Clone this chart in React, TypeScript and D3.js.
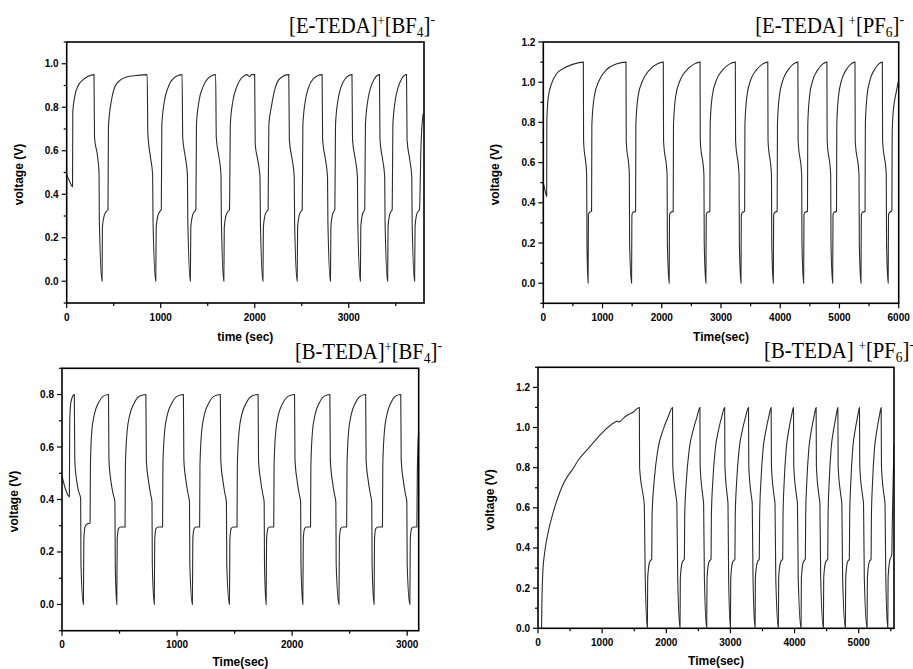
import React from "react";
import * as d3 from "d3";

type Pt = [number, number];

// [E-TEDA]+[BF4]- : time (s), voltage (V)
const eTedaBf4: Pt[] = [
  [0, 0.49], [30, 0.46], [62, 0.435], [65, 0.78], [88, 0.855], [123, 0.9], [176, 0.927], [229, 0.942], [290, 0.95],
  [296, 0.66], [328, 0.575], [344, 0.5], [347, 0.28], [376, 0.0],
  [380, 0.25], [398, 0.3], [420, 0.32], [439, 0.33], [444, 0.71], [476, 0.832], [511, 0.893], [566, 0.924], [637, 0.939], [743, 0.946], [856, 0.95],
  [863, 0.68], [890, 0.572], [914, 0.49], [918, 0.28], [947, 0.0],
  [952, 0.25], [972, 0.305], [990, 0.32], [1006, 0.33], [1012, 0.72], [1040, 0.83], [1078, 0.89], [1130, 0.93], [1227, 0.95],
  [1234, 0.66], [1262, 0.57], [1284, 0.49], [1288, 0.28], [1315, 0.0],
  [1320, 0.25], [1340, 0.305], [1358, 0.32], [1374, 0.33], [1380, 0.72], [1408, 0.83], [1446, 0.89], [1498, 0.93], [1584, 0.95],
  [1591, 0.66], [1620, 0.57], [1641, 0.49], [1645, 0.28], [1671, 0.0],
  [1676, 0.25], [1696, 0.305], [1714, 0.32], [1732, 0.33], [1740, 0.72], [1768, 0.83], [1805, 0.89], [1850, 0.93], [1893, 0.946], [1920, 0.95], [1946, 0.94], [1964, 0.95], [1999, 0.95],
  [2005, 0.63], [2035, 0.55], [2056, 0.48], [2060, 0.27], [2087, 0.0],
  [2092, 0.25], [2110, 0.305], [2126, 0.32], [2142, 0.33], [2150, 0.72], [2176, 0.8], [2211, 0.878], [2265, 0.931], [2362, 0.95],
  [2368, 0.65], [2398, 0.56], [2420, 0.48], [2424, 0.27], [2451, 0.0],
  [2456, 0.25], [2474, 0.305], [2490, 0.32], [2505, 0.33], [2512, 0.72], [2538, 0.83], [2572, 0.89], [2622, 0.93], [2716, 0.95],
  [2722, 0.65], [2752, 0.56], [2774, 0.48], [2778, 0.27], [2805, 0.0],
  [2810, 0.25], [2826, 0.305], [2840, 0.32], [2852, 0.33], [2859, 0.72], [2884, 0.83], [2916, 0.89], [2960, 0.93], [3034, 0.95],
  [3040, 0.65], [3070, 0.56], [3092, 0.48], [3096, 0.27], [3123, 0.0],
  [3128, 0.25], [3144, 0.305], [3158, 0.32], [3170, 0.33], [3177, 0.72], [3202, 0.83], [3232, 0.89], [3272, 0.93], [3326, 0.95],
  [3332, 0.65], [3360, 0.56], [3382, 0.48], [3386, 0.27], [3413, 0.0],
  [3418, 0.25], [3434, 0.305], [3448, 0.32], [3462, 0.33], [3469, 0.72], [3494, 0.83], [3524, 0.89], [3562, 0.93], [3614, 0.95],
  [3620, 0.65], [3648, 0.56], [3670, 0.48], [3674, 0.27], [3700, 0.0],
  [3705, 0.25], [3721, 0.305], [3735, 0.32], [3752, 0.33], [3768, 0.62], [3790, 0.77],
];

// [E-TEDA]+[PF6]-
const eTedaPf6: Pt[] = [
  [0, 0.5], [30, 0.46], [57, 0.432], [60, 0.81], [85, 0.928], [141, 0.994], [226, 1.043], [338, 1.068], [507, 1.09], [676, 1.1],
  [680, 0.71], [732, 0.54], [737, 0.2], [756, 0.0],
  [762, 0.34], [780, 0.352], [815, 0.358], [820, 0.79], [860, 0.928], [945, 1.01], [1060, 1.06], [1230, 1.09], [1396, 1.1],
  [1400, 0.71], [1452, 0.548], [1457, 0.2], [1490, 0.0],
  [1496, 0.34], [1515, 0.352], [1558, 0.358], [1563, 0.79], [1600, 0.93], [1680, 1.01], [1790, 1.06], [1920, 1.09], [2026, 1.1],
  [2030, 0.71], [2090, 0.54], [2095, 0.2], [2125, 0.0],
  [2131, 0.34], [2150, 0.352], [2193, 0.358], [2198, 0.79], [2235, 0.93], [2310, 1.01], [2420, 1.06], [2545, 1.09], [2646, 1.1],
  [2650, 0.71], [2712, 0.54], [2717, 0.2], [2745, 0.0],
  [2751, 0.34], [2770, 0.352], [2812, 0.358], [2817, 0.79], [2852, 0.93], [2922, 1.01], [3025, 1.06], [3140, 1.09], [3242, 1.1],
  [3246, 0.71], [3305, 0.54], [3310, 0.2], [3337, 0.0],
  [3343, 0.34], [3362, 0.352], [3399, 0.358], [3404, 0.79], [3437, 0.93], [3500, 1.01], [3595, 1.06], [3700, 1.09], [3790, 1.1],
  [3794, 0.71], [3852, 0.54], [3857, 0.2], [3883, 0.0],
  [3889, 0.34], [3906, 0.352], [3948, 0.358], [3953, 0.79], [3985, 0.93], [4045, 1.01], [4130, 1.06], [4220, 1.09], [4298, 1.1],
  [4302, 0.71], [4362, 0.54], [4367, 0.2], [4395, 0.0],
  [4401, 0.34], [4418, 0.352], [4460, 0.358], [4465, 0.79], [4495, 0.93], [4550, 1.01], [4630, 1.06], [4715, 1.09], [4788, 1.1],
  [4792, 0.71], [4852, 0.54], [4857, 0.2], [4885, 0.0],
  [4891, 0.34], [4908, 0.352], [4950, 0.358], [4955, 0.79], [4984, 0.93], [5036, 1.01], [5110, 1.06], [5192, 1.09], [5262, 1.1],
  [5266, 0.71], [5330, 0.54], [5335, 0.2], [5363, 0.0],
  [5369, 0.34], [5386, 0.352], [5432, 0.358], [5437, 0.79], [5465, 0.93], [5515, 1.01], [5585, 1.06], [5660, 1.09], [5724, 1.1],
  [5728, 0.71], [5790, 0.54], [5795, 0.2], [5822, 0.0],
  [5828, 0.34], [5845, 0.352], [5885, 0.36], [5890, 0.75], [5910, 0.86], [5954, 0.944], [6000, 1.01],
];

// [B-TEDA]+[BF4]-
const bTedaBf4: Pt[] = [
  [0, 0.49], [30, 0.44], [64, 0.411], [67, 0.68], [72, 0.75], [85, 0.785], [107, 0.8],
  [111, 0.55], [128, 0.47], [145, 0.43], [162, 0.405], [165, 0.15], [186, 0.0],
  [190, 0.25], [201, 0.297], [215, 0.306], [244, 0.31], [247, 0.53], [259, 0.66], [281, 0.724], [316, 0.768], [360, 0.794], [404, 0.8],
  [408, 0.55], [425, 0.47], [445, 0.42], [460, 0.39], [463, 0.15], [476, 0.0],
  [480, 0.25], [492, 0.29], [510, 0.295], [548, 0.295], [551, 0.53], [566, 0.66], [590, 0.724], [628, 0.768], [675, 0.794], [729, 0.8],
  [733, 0.55], [752, 0.47], [770, 0.42], [782, 0.39], [785, 0.15], [802, 0.0],
  [806, 0.25], [818, 0.29], [836, 0.295], [874, 0.295], [877, 0.53], [892, 0.66], [916, 0.724], [955, 0.768], [1002, 0.794], [1055, 0.8],
  [1059, 0.55], [1078, 0.47], [1096, 0.42], [1108, 0.39], [1111, 0.15], [1133, 0.0],
  [1137, 0.25], [1149, 0.29], [1165, 0.295], [1196, 0.295], [1199, 0.53], [1214, 0.66], [1238, 0.724], [1276, 0.768], [1323, 0.794], [1376, 0.8],
  [1380, 0.55], [1399, 0.47], [1417, 0.42], [1429, 0.39], [1432, 0.15], [1455, 0.0],
  [1459, 0.25], [1471, 0.29], [1488, 0.295], [1521, 0.295], [1524, 0.53], [1539, 0.66], [1563, 0.724], [1602, 0.768], [1650, 0.794], [1704, 0.8],
  [1708, 0.55], [1727, 0.47], [1745, 0.42], [1757, 0.39], [1760, 0.15], [1774, 0.0],
  [1778, 0.25], [1790, 0.29], [1806, 0.295], [1840, 0.295], [1843, 0.53], [1858, 0.66], [1882, 0.724], [1920, 0.768], [1968, 0.794], [2021, 0.8],
  [2025, 0.55], [2044, 0.47], [2062, 0.42], [2074, 0.39], [2077, 0.15], [2093, 0.0],
  [2097, 0.25], [2109, 0.29], [2125, 0.295], [2160, 0.295], [2163, 0.53], [2177, 0.66], [2200, 0.724], [2236, 0.768], [2280, 0.794], [2328, 0.8],
  [2332, 0.55], [2350, 0.47], [2368, 0.42], [2380, 0.39], [2383, 0.15], [2407, 0.0],
  [2411, 0.25], [2423, 0.29], [2440, 0.295], [2474, 0.295], [2477, 0.53], [2491, 0.66], [2514, 0.724], [2550, 0.768], [2594, 0.794], [2639, 0.8],
  [2643, 0.55], [2662, 0.47], [2680, 0.42], [2692, 0.39], [2695, 0.15], [2712, 0.0],
  [2716, 0.25], [2728, 0.29], [2745, 0.295], [2785, 0.295], [2788, 0.53], [2802, 0.66], [2824, 0.724], [2858, 0.768], [2900, 0.794], [2944, 0.8],
  [2948, 0.55], [2967, 0.47], [2985, 0.42], [2997, 0.39], [3000, 0.15], [3023, 0.0],
  [3027, 0.25], [3039, 0.29], [3055, 0.295], [3084, 0.295], [3088, 0.5], [3098, 0.65],
];

// [B-TEDA]+[PF6]-
const bTedaPf6: Pt[] = [
  [55, 0.0], [62, 0.15], [75, 0.28], [105, 0.38], [160, 0.48], [239, 0.58], [343, 0.68], [473, 0.763], [500, 0.774], [545, 0.795],
  [629, 0.838], [785, 0.896], [993, 0.971], [1201, 1.027], [1235, 1.032], [1262, 1.028], [1357, 1.054], [1475, 1.075], [1580, 1.1],
  [1584, 0.8], [1640, 0.66], [1656, 0.62], [1672, 0.25], [1705, 0.0],
  [1710, 0.25], [1740, 0.33], [1773, 0.345], [1778, 0.56], [1810, 0.73], [1872, 0.896], [1950, 0.988], [2030, 1.054], [2097, 1.1],
  [2101, 0.81], [2150, 0.66], [2165, 0.62], [2178, 0.25], [2214, 0.0],
  [2219, 0.25], [2250, 0.33], [2282, 0.345], [2287, 0.56], [2312, 0.73], [2360, 0.896], [2420, 0.988], [2480, 1.054], [2524, 1.1],
  [2528, 0.81], [2568, 0.66], [2582, 0.62], [2594, 0.25], [2630, 0.0],
  [2635, 0.25], [2665, 0.33], [2698, 0.345], [2703, 0.56], [2725, 0.73], [2765, 0.896], [2815, 0.988], [2865, 1.054], [2910, 1.1],
  [2914, 0.81], [2950, 0.66], [2962, 0.62], [2972, 0.25], [3000, 0.0],
  [3005, 0.25], [3035, 0.33], [3070, 0.345], [3075, 0.56], [3097, 0.73], [3137, 0.896], [3187, 0.988], [3237, 1.054], [3282, 1.1],
  [3286, 0.81], [3325, 0.66], [3340, 0.62], [3352, 0.25], [3384, 0.0],
  [3389, 0.25], [3420, 0.33], [3450, 0.345], [3455, 0.56], [3475, 0.73], [3510, 0.896], [3555, 0.988], [3598, 1.054], [3635, 1.1],
  [3639, 0.81], [3680, 0.66], [3695, 0.62], [3707, 0.25], [3747, 0.0],
  [3752, 0.25], [3782, 0.33], [3815, 0.345], [3820, 0.56], [3838, 0.73], [3870, 0.896], [3910, 0.988], [3950, 1.054], [3983, 1.1],
  [3987, 0.81], [4030, 0.66], [4045, 0.62], [4057, 0.25], [4101, 0.0],
  [4106, 0.25], [4136, 0.33], [4168, 0.345], [4173, 0.56], [4191, 0.73], [4223, 0.896], [4263, 0.988], [4303, 1.054], [4336, 1.1],
  [4340, 0.81], [4380, 0.66], [4395, 0.62], [4407, 0.25], [4449, 0.0],
  [4454, 0.25], [4484, 0.33], [4517, 0.345], [4522, 0.56], [4540, 0.73], [4570, 0.896], [4608, 0.988], [4645, 1.054], [4675, 1.1],
  [4679, 0.81], [4722, 0.66], [4737, 0.62], [4749, 0.25], [4792, 0.0],
  [4797, 0.25], [4825, 0.33], [4854, 0.345], [4859, 0.56], [4877, 0.73], [4907, 0.896], [4945, 0.988], [4982, 1.054], [5012, 1.1],
  [5016, 0.81], [5060, 0.66], [5075, 0.62], [5087, 0.25], [5130, 0.0],
  [5135, 0.25], [5163, 0.33], [5193, 0.345], [5198, 0.56], [5216, 0.73], [5246, 0.896], [5284, 0.988], [5320, 1.054], [5350, 1.1],
  [5354, 0.81], [5395, 0.66], [5410, 0.62], [5422, 0.25], [5453, 0.0],
  [5458, 0.25], [5485, 0.34], [5515, 0.365], [5525, 0.55], [5540, 0.78], [5550, 0.91],
];

const xTicksE1 = [0, 1000, 2000, 3000];
const xTicksE2 = [0, 1000, 2000, 3000, 4000, 5000, 6000];
const xTicksB1 = [0, 1000, 2000, 3000];
const xTicksB2 = [0, 1000, 2000, 3000, 4000, 5000];
const yTicksE1 = [0, 0.2, 0.4, 0.6, 0.8, 1.0];
const yTicksE2 = [0, 0.2, 0.4, 0.6, 0.8, 1.0, 1.2];
const yTicksB1 = [0, 0.2, 0.4, 0.6, 0.8];
const yTicksB2 = [0, 0.2, 0.4, 0.6, 0.8, 1.0, 1.2];

type Panel = {
  id: string;
  data: Pt[];
  xDomain: [number, number];
  yDomain: [number, number];
  xTicks: number[];
  yTicks: number[];
  box: { l: number; r: number; t: number; b: number };
  xLabel: string;
  xLabelGap: number;
  cation: string;
  anion: string;
  sub: string;
  titleRight: number;
};

const panels: Panel[] = [
  {
    id: "p1", data: eTedaBf4, xDomain: [0, 3800], yDomain: [-0.1, 1.1],
    xTicks: xTicksE1, yTicks: yTicksE1, box: { l: 66.7, r: 424, t: 42, b: 303 },
    xLabel: "time (sec)", xLabelGap: 38, cation: "[E-TEDA]", anion: "[BF", sub: "4", titleRight: 435,
  },
  {
    id: "p2", data: eTedaPf6, xDomain: [0, 6000], yDomain: [-0.1, 1.2],
    xTicks: xTicksE2, yTicks: yTicksE2, box: { l: 543.3, r: 898.7, t: 42, b: 303.3 },
    xLabel: "Time(sec)", xLabelGap: 38, cation: "[E-TEDA] ", anion: "[PF", sub: "6", titleRight: 904,
  },
  {
    id: "p3", data: bTedaBf4, xDomain: [0, 3100], yDomain: [-0.1, 0.9],
    xTicks: xTicksB1, yTicks: yTicksB1, box: { l: 62, r: 418.7, t: 368.3, b: 630.7 },
    xLabel: "Time(sec)", xLabelGap: 35, cation: "[B-TEDA]", anion: "[BF", sub: "4", titleRight: 442,
  },
  {
    id: "p4", data: bTedaPf6, xDomain: [0, 5550], yDomain: [0, 1.3],
    xTicks: xTicksB2, yTicks: yTicksB2, box: { l: 538, r: 894, t: 367.3, b: 628.3 },
    xLabel: "Time(sec)", xLabelGap: 37, cation: "[B-TEDA] ", anion: "[PF", sub: "6", titleRight: 914,
  },
];

const sans = "'Liberation Sans', Arial, Helvetica, sans-serif";
const serif = "'Liberation Serif', 'Times New Roman', serif";

const ChartPanel = ({ p }: { p: Panel }) => {
  const { l, r, t, b } = p.box;
  const x = d3.scaleLinear().domain(p.xDomain).range([l, r]);
  const y = d3.scaleLinear().domain(p.yDomain).range([b, t]);
  const line = d3
    .line<Pt>()
    .x((d) => x(d[0]))
    .y((d) => y(d[1]))
    .curve(d3.curveMonotoneX);

  // minor ticks halfway between labelled ones
  const xMinor = d3.range(p.xDomain[0] + 500, p.xDomain[1] + 1, 1000);
  const yMinor = d3
    .range(Math.round(p.yDomain[0] * 10), Math.round(p.yDomain[1] * 10) + 1)
    .map((k) => k / 10)
    .filter((v) => !p.yTicks.some((tv) => Math.abs(tv - v) < 1e-6));

  const fmtY = d3.format(".1f");

  return (
    <g>
      <defs>
        <clipPath id={`clip-${p.id}`}>
          <rect x={l} y={t} width={r - l} height={b - t} />
        </clipPath>
      </defs>

      <path
        d={line(p.data) || ""}
        fill="none"
        stroke="#2b2b2b"
        strokeWidth={1.1}
        clipPath={`url(#clip-${p.id})`}
      />

      <rect x={l} y={t} width={r - l} height={b - t} fill="none" stroke="#000" strokeWidth={1.6} />

      {/* bottom axis */}
      {p.xTicks.map((v) => (
        <g key={`xt${v}`}>
          <line x1={x(v)} x2={x(v)} y1={b} y2={b + 5} stroke="#000" strokeWidth={1.2} />
          <text x={x(v)} y={b + 17.5} textAnchor="middle" fontFamily={sans} fontWeight="bold" fontSize={10}>
            {v}
          </text>
        </g>
      ))}
      {xMinor.map((v) => (
        <line key={`xm${v}`} x1={x(v)} x2={x(v)} y1={b} y2={b + 3} stroke="#000" strokeWidth={1.2} />
      ))}

      {/* left axis */}
      {p.yTicks.map((v) => (
        <g key={`yt${v}`}>
          <line x1={l - 5} x2={l} y1={y(v)} y2={y(v)} stroke="#000" strokeWidth={1.2} />
          <text x={l - 8} y={y(v)} dy="0.35em" textAnchor="end" fontFamily={sans} fontWeight="bold" fontSize={10}>
            {fmtY(v)}
          </text>
        </g>
      ))}
      {yMinor.map((v) => (
        <line key={`ym${v}`} x1={l - 3} x2={l} y1={y(v)} y2={y(v)} stroke="#000" strokeWidth={1.2} />
      ))}

      <text
        x={(l + r) / 2}
        y={b + p.xLabelGap}
        textAnchor="middle"
        fontFamily={sans}
        fontWeight="bold"
        fontSize={12}
      >
        {p.xLabel}
      </text>
      <text
        transform={`translate(${l - 44},${(t + b) / 2 + 2}) rotate(-90)`}
        textAnchor="middle"
        fontFamily={sans}
        fontWeight="bold"
        fontSize={12}
      >
        voltage (V)
      </text>

      <text
        transform={`translate(${p.titleRight},${t - 9}) scale(0.9,1)`}
        textAnchor="end"
        fontFamily={serif}
        fontSize={23}
      >
        {p.cation}
        <tspan dy={-8} fontSize={14}>+</tspan>
        <tspan dy={8}>{p.anion}</tspan>
        <tspan dy={4} fontSize={15}>{p.sub}</tspan>
        <tspan dy={-4}>]</tspan>
        <tspan dy={-9} fontSize={15}>-</tspan>
      </text>
    </g>
  );
};

export default function App() {
  return (
    <svg
      width={913}
      height={669}
      style={{ position: "absolute", left: 0, top: 0, background: "#fff" }}
    >
      {panels.map((p) => (
        <ChartPanel key={p.id} p={p} />
      ))}
    </svg>
  );
}
